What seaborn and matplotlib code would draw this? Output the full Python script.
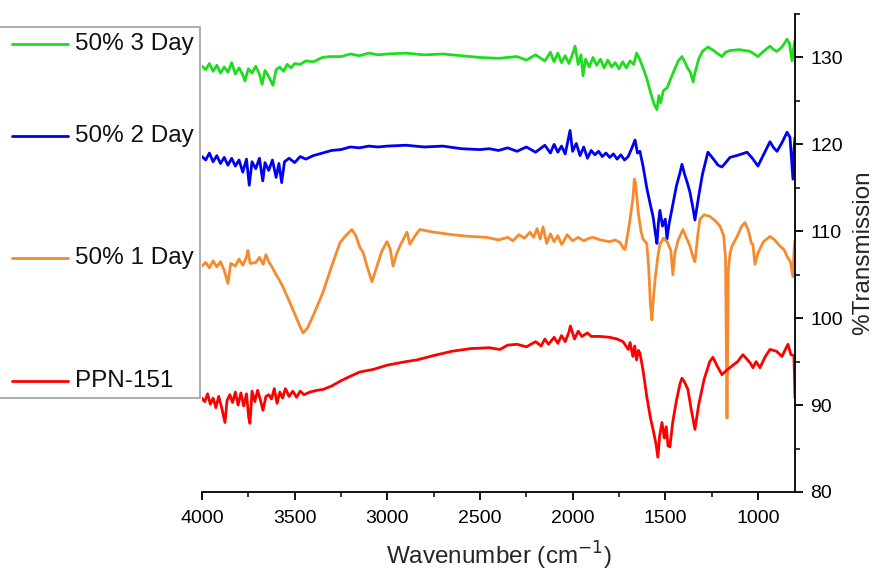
import matplotlib
matplotlib.use("Agg")
import matplotlib.pyplot as plt
import seaborn as sns
import pandas as pd
from matplotlib.lines import Line2D
from matplotlib.patches import Rectangle
from matplotlib.ticker import MultipleLocator

# ---------------- data ----------------
labels = ["50% 3 Day", "50% 2 Day", "50% 1 Day", "PPN-151"]
colors = ["#1fdc1f", "#0000f0", "#f68a2e", "#ff0000"]

wn_3day = [4000, 3980, 3960, 3940, 3920, 3900, 3880, 3860, 3840, 3820, 3800, 3780, 3768, 3750, 3730, 3710,
           3690, 3676, 3660, 3640, 3617, 3600, 3580, 3560, 3540, 3520, 3500, 3471, 3440, 3400, 3350, 3309,
           3250, 3200, 3150, 3100, 3050, 3000, 2900, 2800, 2700, 2600, 2500, 2400, 2300, 2250, 2200, 2150,
           2120, 2100, 2080, 2060, 2040, 2020, 2000, 1987, 1970, 1955, 1944, 1930, 1910, 1890, 1870, 1850,
           1830, 1810, 1790, 1770, 1750, 1730, 1710, 1690, 1670, 1655, 1640, 1620, 1600, 1580, 1560, 1545,
           1535, 1525, 1510, 1490, 1470, 1450, 1430, 1410, 1395, 1380, 1365, 1350, 1340, 1320, 1300, 1270,
           1240, 1215, 1194, 1175, 1150, 1100, 1043, 1020, 1000, 970, 935, 915, 897, 870, 843, 830, 816, 808, 800]
t_3day = [129.0, 128.6, 129.3, 128.4, 129.1, 128.2, 128.9, 128.3, 129.4, 128.1, 128.8, 128.0, 127.3, 128.7, 128.2, 129.0,
          128.1, 126.9, 128.5, 127.8, 126.8, 128.6, 128.9, 128.4, 129.2, 128.8, 129.3, 129.2, 129.6, 129.5, 130.0, 130.1,
          130.1, 130.4, 130.2, 130.5, 130.3, 130.4, 130.5, 130.3, 130.4, 130.2, 130.0, 129.9, 130.1, 129.7, 130.3, 129.6,
          130.6, 129.5, 130.5, 129.4, 130.2, 129.3, 130.4, 131.3, 129.2, 130.3, 127.9, 129.8, 128.9, 130.0, 129.1, 129.8,
          128.8, 129.7, 128.9, 129.4, 128.7, 129.5, 128.8, 129.6, 129.2, 130.5, 129.9, 128.8, 127.6, 126.0, 124.6, 124.0,
          125.6, 124.8, 126.2, 126.5, 127.6, 128.6, 129.6, 130.1, 129.5, 128.8, 128.3, 127.2, 128.2, 129.8, 130.7, 131.2,
          130.8, 130.4, 130.1, 130.6, 130.8, 130.9, 130.7, 130.4, 130.1, 130.7, 131.3, 130.9, 130.7, 131.2, 132.1, 131.6, 129.6, 131.0, 132.0]

wn_2day = [4000, 3980, 3960, 3940, 3920, 3900, 3880, 3860, 3840, 3820, 3800, 3780, 3760, 3745, 3730, 3710,
           3690, 3672, 3660, 3640, 3620, 3600, 3585, 3570, 3555, 3530, 3500, 3470, 3440, 3400, 3350, 3300,
           3250, 3200, 3150, 3100, 3050, 3000, 2900, 2800, 2700, 2600, 2500, 2450, 2400, 2350, 2300, 2250,
           2200, 2150, 2120, 2100, 2080, 2060, 2040, 2014, 2000, 1980, 1960, 1940, 1920, 1900, 1880, 1860,
           1840, 1820, 1800, 1780, 1760, 1740, 1720, 1700, 1680, 1663, 1650, 1637, 1620, 1600, 1580, 1566,
           1555, 1545, 1537, 1529, 1515, 1500, 1491, 1480, 1460, 1440, 1420, 1410, 1395, 1380, 1367, 1350,
           1340, 1320, 1300, 1270, 1240, 1215, 1194, 1170, 1151, 1100, 1059, 1030, 1000, 970, 935, 915, 897,
           870, 843, 827, 811, 805, 800]
t_2day = [118.6, 118.2, 119.0, 118.0, 118.7, 117.8, 118.5, 117.6, 118.4, 117.5, 118.2, 116.8, 118.3, 115.3, 118.0, 117.2,
          118.4, 115.8, 117.9, 117.0, 118.2, 116.2, 117.8, 115.6, 118.0, 118.4, 117.9, 118.6, 118.3, 118.7, 119.0, 119.3,
          119.4, 119.7, 119.6, 119.8, 119.7, 119.8, 119.9, 119.7, 119.8, 119.5, 119.4, 119.5, 119.3, 119.6, 119.2, 119.7,
          119.1, 119.9, 119.0, 120.0, 119.1, 119.8, 118.9, 121.6, 119.2, 120.1, 118.7, 119.7, 118.4, 119.3, 118.8, 119.2,
          118.6, 119.0, 118.5, 118.9, 118.3, 118.8, 118.2, 118.6, 119.6, 120.5, 119.0, 119.2, 117.5, 115.0, 113.0, 111.7,
          110.0, 108.6, 111.0, 112.4, 110.6, 111.4, 109.1, 110.8, 113.0, 115.2, 116.8, 117.7, 116.5, 115.5, 114.5, 112.6,
          111.3, 114.0, 116.5, 119.1, 118.3, 117.6, 117.4, 118.0, 118.5, 118.8, 119.1, 118.4, 117.5, 118.8, 120.3, 119.6, 119.2,
          120.2, 121.4, 120.8, 116.0, 119.5, 120.8]

wn_1day = [4000, 3980, 3960, 3940, 3920, 3900, 3880, 3860, 3845, 3820, 3800, 3780, 3760, 3752, 3740, 3710,
           3690, 3670, 3655, 3640, 3620, 3600, 3580, 3563, 3530, 3500, 3470, 3455, 3430, 3400, 3370, 3347,
           3300, 3255, 3220, 3191, 3170, 3147, 3131, 3110, 3083, 3060, 3030, 3002, 2985, 2969, 2950, 2932,
           2894, 2878, 2850, 2824, 2750, 2646, 2550, 2462, 2400, 2350, 2322, 2290, 2260, 2230, 2210, 2192,
           2175, 2160, 2140, 2120, 2100, 2080, 2060, 2052, 2030, 2000, 1970, 1940, 1910, 1890, 1850, 1800,
           1770, 1744, 1725, 1717, 1700, 1690, 1674, 1667, 1660, 1645, 1630, 1620, 1600, 1590, 1580, 1572,
           1565, 1555, 1540, 1529, 1510, 1490, 1470, 1459, 1448, 1430, 1405, 1385, 1367, 1350, 1340, 1325,
           1313, 1290, 1259, 1230, 1205, 1185, 1175, 1170, 1167, 1163, 1160, 1150, 1140, 1110, 1090, 1070,
           1050, 1035, 1027, 1016, 1000, 970, 935, 910, 881, 860, 840, 825, 811, 805, 800]
t_1day = [106.0, 106.4, 105.8, 106.6, 105.9, 106.5, 105.5, 104.0, 106.3, 106.0, 106.8, 106.1, 107.0, 107.8, 106.3, 106.4,
          107.0, 106.2, 107.3, 106.5, 105.8, 105.0, 104.3, 103.6, 102.0, 100.5, 99.0, 98.3, 98.9, 100.3, 101.8, 103.0,
          106.0, 108.7, 109.6, 110.2, 109.5, 108.1, 107.6, 106.0, 104.2, 105.7, 107.7, 108.8, 108.0, 106.0, 107.4, 108.3,
          109.9, 108.5, 109.5, 110.2, 109.9, 109.6, 109.4, 109.3, 109.0, 109.3, 108.9, 109.6, 109.2, 109.9, 109.3, 110.3,
          109.1, 110.5, 108.6, 109.7, 108.8, 109.5, 108.5, 108.7, 109.6, 108.9, 109.3, 108.9, 109.2, 109.3, 109.0, 108.8,
          109.0, 108.7, 108.0, 107.9, 110.0, 111.4, 113.9, 116.0, 115.5, 112.0, 109.9, 109.1, 108.6, 106.0, 101.5, 99.8,
          102.0, 104.5, 107.1, 108.5, 109.2, 108.8, 107.8, 105.0, 107.5, 109.0, 110.2, 109.2, 108.3, 107.0, 106.5, 109.5,
          111.4, 111.9, 111.7, 111.2, 110.6, 109.5, 107.0, 96.0, 88.5, 97.0, 105.6, 107.5, 108.3, 109.5, 110.5, 111.0,
          110.0, 108.6, 108.5, 106.2, 107.5, 108.8, 109.4, 109.0, 108.3, 107.9, 107.0, 106.5, 104.8, 107.9, 109.0]

wn_ppn = [4000, 3985, 3970, 3955, 3940, 3925, 3910, 3895, 3876, 3865, 3850, 3835, 3820, 3805, 3790, 3775,
          3760, 3748, 3741, 3730, 3715, 3700, 3685, 3671, 3655, 3640, 3625, 3610, 3595, 3580, 3565, 3550,
          3530, 3510, 3490, 3470, 3450, 3417, 3380, 3347, 3300, 3250, 3201, 3150, 3077, 3000, 2900, 2840,
          2750, 2650, 2550, 2450, 2392, 2350, 2300, 2250, 2200, 2170, 2150, 2130, 2100, 2080, 2060, 2040,
          2020, 2012, 1990, 1970, 1950, 1920, 1900, 1852, 1800, 1760, 1728, 1700, 1690, 1675, 1665, 1655,
          1645, 1637, 1620, 1600, 1580, 1566, 1550, 1540, 1530, 1518, 1505, 1495, 1485, 1475, 1460, 1440,
          1420, 1410, 1395, 1378, 1360, 1340, 1320, 1290, 1260, 1243, 1220, 1194, 1170, 1140, 1110, 1081,
          1060, 1040, 1027, 1010, 989, 960, 935, 900, 870, 850, 838, 822, 806, 800]
t_ppn = [90.8, 90.4, 91.3, 90.1, 90.8, 89.7, 91.0, 89.8, 88.0, 90.5, 91.2, 90.3, 91.5, 90.0, 91.4, 89.9,
         91.3, 88.6, 87.9, 91.6, 90.4, 91.7, 90.6, 89.4, 91.0, 91.2, 90.7, 91.9, 90.2, 91.5, 90.8, 91.9,
         91.0, 91.6, 90.9, 91.6, 91.2, 91.5, 91.7, 91.8, 92.2, 92.8, 93.3, 93.8, 94.1, 94.6, 95.0, 95.2,
         95.7, 96.2, 96.5, 96.6, 96.4, 96.9, 97.0, 96.7, 97.3, 96.8, 97.6, 97.0, 97.8, 97.1, 98.0, 97.3,
         98.4, 99.1, 97.6, 98.5, 97.9, 98.3, 97.9, 97.9, 97.8, 97.6, 97.3, 96.4, 97.2, 95.6, 96.8, 95.2,
         96.3, 96.0, 94.0, 91.0, 88.5, 87.2, 85.5, 84.0, 86.5, 88.0, 86.2, 87.5, 85.3, 85.2, 88.0, 90.5,
         92.5, 93.1, 92.6, 91.8, 89.5, 87.2, 90.0, 93.0, 95.0, 95.5, 94.5, 93.5, 94.0, 94.5, 95.0, 95.8,
         95.3, 94.8, 94.3, 95.0, 94.3, 95.6, 96.4, 96.2, 95.6, 96.5, 97.0, 95.8, 95.7, 90.8]

series_wn = [wn_3day, wn_2day, wn_1day, wn_ppn]
series_t = [t_3day, t_2day, t_1day, t_ppn]

x_ticks = [4000, 3500, 3000, 2500, 2000, 1500, 1000]
y_ticks = [80, 90, 100, 110, 120, 130]

# ---------------- plotting ----------------
sns.set_style("ticks")
plt.rcParams["font.family"] = ["Liberation Sans", "DejaVu Sans"]

fig = plt.figure(figsize=(8.76, 5.71), dpi=100)
W, H = 876, 571
ax = fig.add_axes([202 / W, 1 - 492 / H, (795 - 202) / W, (492 - 14) / H])

for lab, col, wn, tt in zip(labels, colors, series_wn, series_t):
    df = pd.DataFrame({"wn": wn, "T": tt})
    sns.lineplot(data=df, x="wn", y="T", ax=ax, color=col, lw=2.0,
                 sort=False, estimator=None, legend=False)

ax.set_xlim(4000, 800)
ax.set_ylim(80, 135)
ax.set_xticks(x_ticks)
ax.set_yticks(y_ticks)
ax.xaxis.set_minor_locator(MultipleLocator(250))
ax.yaxis.set_minor_locator(MultipleLocator(5))

ax.yaxis.tick_right()
ax.yaxis.set_label_position("right")
for s in ["left", "top"]:
    ax.spines[s].set_visible(False)
for s in ["right", "bottom"]:
    ax.spines[s].set_linewidth(1.3)
    ax.spines[s].set_color("black")

ax.tick_params(axis="both", which="major", length=6, width=1.3, direction="out",
               labelsize=14, colors="black")
ax.tick_params(axis="x", which="major", pad=7)
ax.tick_params(axis="y", which="major", pad=5)
ax.tick_params(axis="both", which="minor", length=3.5, width=1.3, direction="out")
ax.tick_params(axis="y", which="both", left=False, right=True)

ax.set_xlabel("Wavenumber (cm$^{-1}$)", fontsize=17.5, labelpad=9)
ax.set_ylabel("%Transmission", fontsize=17.5, labelpad=7, rotation=90)

# legend box (drawn in figure pixel space)
def fx(px):
    return px / W

def fy(py):
    return 1 - py / H

box = Rectangle((fx(-10), fy(398)), fx(200) - fx(-10), fy(27) - fy(398),
                transform=fig.transFigure, fill=False, edgecolor="#a0a0a0", lw=1.2)
fig.add_artist(box)
legend_y = [44, 136, 258, 381]
for lab, col, ly in zip(labels, colors, legend_y):
    fig.add_artist(Line2D([fx(12), fx(68)], [fy(ly), fy(ly)], transform=fig.transFigure,
                          color=col, lw=2.0))
    fig.text(fx(75), fy(ly), lab, fontsize=17.5, va="center", ha="left", color="#111111")

fig.savefig("out.png", dpi=100)
